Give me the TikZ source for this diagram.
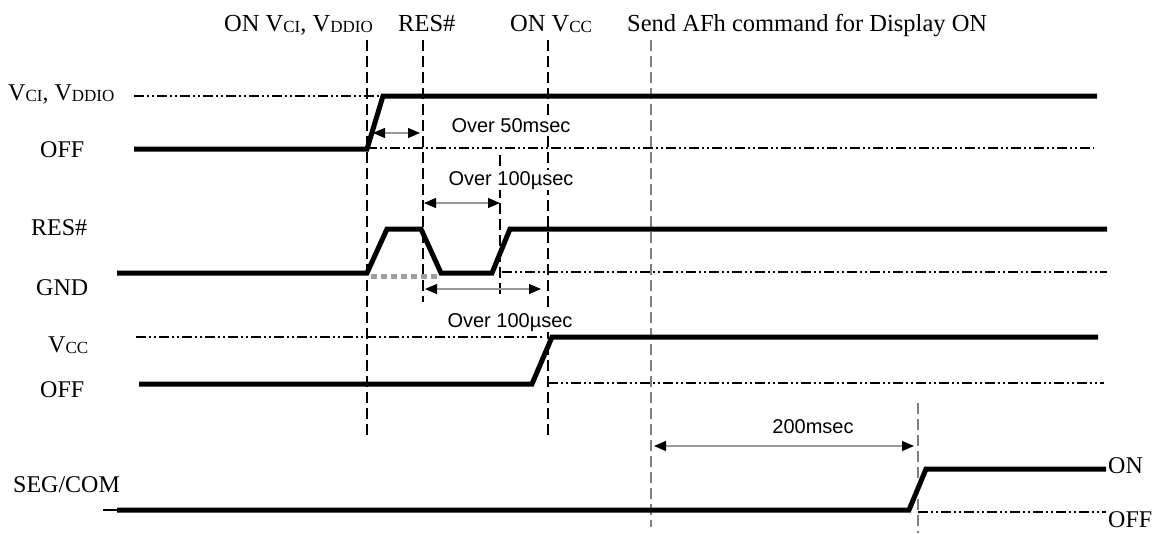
\documentclass[tikz,border=0pt]{standalone}
\usepackage{fontspec}
\setmainfont{Liberation Serif}
\newfontfamily\arialfont{Liberation Sans}
\usetikzlibrary{arrows.meta}
\newcommand{\lsub}[1]{\raisebox{-1pt}{\fontsize{17}{17}\selectfont #1}}
\begin{document}
\begin{tikzpicture}[x=1pt,y=-1pt,
 sig/.style={line width=5pt, line join=miter},
 refline/.style={line width=1.3pt, dash pattern=on 10pt off 3pt on 2pt off 3pt on 2pt off 3pt},
 vguide/.style={line width=1.4pt, dash pattern=on 11pt off 5pt},
 lbl/.style={font=\fontsize{24}{24}\selectfont, inner sep=0pt, anchor=base west},
 tlbl/.style={font=\fontsize{24.5}{24.5}\selectfont, inner sep=0pt, anchor=base west},
 sans/.style={font=\arialfont\fontsize{20}{20}\selectfont, inner sep=1pt, fill=white, anchor=base},
 meas/.style={line width=1.2pt, gray!80, {Triangle[length=12pt,width=10pt,color=black]}-{Triangle[length=12pt,width=10pt,color=black]}},
]
\useasboundingbox (0,0) rectangle (1165,533);
% top labels
\node[tlbl] (tvci) at (224,31) {ON V\lsub{CI}, V\lsub{DDIO}};
\node[tlbl] (tres) at (398,31) {RES\#};
\node[tlbl] (tvcc) at (510,31) {ON V\lsub{CC}};
\node[tlbl] (tafh) at (627,31) {Send AFh command for Display ON};
% left labels
\node[lbl] (lvci) at (8,100) {V\lsub{CI}, V\lsub{DDIO}};
\node[lbl] (loff1) at (40,157) {OFF};
\node[lbl] (lres) at (31,235) {RES\#};
\node[lbl] (lgnd) at (36,295) {GND};
\node[lbl] (lvcc) at (48,352) {V\lsub{CC}};
\node[lbl] (loff2) at (40,397) {OFF};
\node[lbl] (lseg) at (13,492) {SEG/COM};
\node[lbl] (lon) at (1108,473) {ON};
\node[lbl] (loff3) at (1108,527) {OFF};
% reference levels
\draw[refline] (134,96) -- (380,96);
\draw[refline] (367,148) -- (1094,148);
\draw[refline] (502,272) -- (1107,272);
\draw[refline] (136,337) -- (544,337);
\draw[refline] (548,383) -- (1104,383);
\draw[refline] (918,512) -- (1106,512);
% vertical guides
\draw[vguide] (367,40) -- (367,435);
\draw[vguide] (423,40) -- (423,302);
\draw[vguide] (500,155) -- (500,298);
\draw[vguide] (548,40) -- (548,435);
\draw[vguide, gray] (651,40) -- (651,527);
\draw[vguide, gray] (918,403) -- (918,533);
% signals
\draw[sig] (134,149) -- (367,149) -- (383,96) -- (1097,96);
\draw[line width=5pt, gray!75, dash pattern=on 6pt off 4pt] (371,276) -- (437,276);
\draw[sig] (117,273) -- (367,273) -- (387,229) -- (421,229) -- (441,273) -- (492,273) -- (510,229) -- (1107,229);
\draw[sig] (139,384) -- (532,384) -- (552,337) -- (1098,337);
\draw[line width=1.5pt] (103,510) -- (117,510);
\draw[sig] (117,510) -- (909,510) -- (926,469) -- (1106,469);
% measurements
\coordinate (a1l) at (373,133); \coordinate (a1r) at (420,133);
\coordinate (a2l) at (424,203); \coordinate (a2r) at (500,203);
\coordinate (a3l) at (425,289); \coordinate (a3r) at (541,289);
\coordinate (a4l) at (654,446); \coordinate (a4r) at (914,446);
\draw[meas] (a1l) -- (a1r);
\draw[meas] (a2l) -- (a2r);
\draw[meas] (a3l) -- (a3r);
\draw[meas] (a4l) -- (a4r);
\node[sans] (t50) at (511,132) {Over 50msec};
\node[sans] (t100a) at (511,185) {Over 100µsec};
\node[sans] (t100b) at (510,327) {Over 100µsec};
\node[sans] (t200) at (813,433) {200msec};
\end{tikzpicture}
\end{document}
